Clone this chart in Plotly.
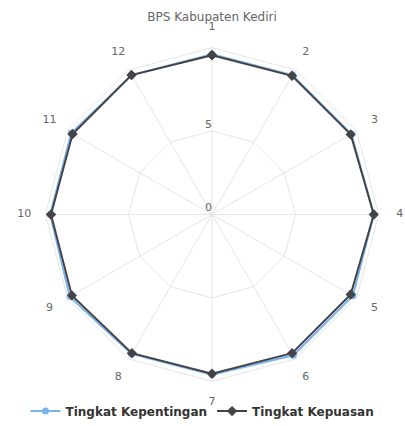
import plotly.graph_objects as go

categories = ["1", "2", "3", "4", "5", "6", "7", "8", "9", "10", "11", "12"]
kepentingan = [9.6, 9.65, 9.65, 9.7, 9.75, 9.75, 9.6, 9.65, 9.85, 9.7, 9.75, 9.65]
kepuasan = [9.55, 9.6, 9.6, 9.7, 9.6, 9.6, 9.55, 9.6, 9.7, 9.65, 9.65, 9.65]
radial_ticks = [0, 5]
radial_max = 10
label_radius = 11.25

W, H = 405, 426
cx, cy, R = 212, 216, 168
R2 = 190  # outer (label) polar radius in px
FONT = "DejaVu Sans, Open Sans, sans-serif"

def closed(v):
    return list(v) + [v[0]]

fig = go.Figure()
fig.add_trace(go.Scatterpolar(
    r=closed(kepentingan), theta=closed(categories), mode="lines+markers",
    name="Tingkat Kepentingan",
    line=dict(color="#7cb5ec", width=2),
    marker=dict(symbol="circle", size=7, color="#7cb5ec"),
))
fig.add_trace(go.Scatterpolar(
    r=closed(kepuasan), theta=closed(categories), mode="lines+markers",
    name="Tingkat Kepuasan",
    line=dict(color="#434348", width=2),
    marker=dict(symbol="diamond", size=8, color="#434348"),
))
# radial tick labels, upright, left of the axis
fig.add_trace(go.Scatterpolar(
    r=[max(t, 0.02) for t in radial_ticks], theta=[categories[0]] * len(radial_ticks), mode="text",
    text=[str(t) for t in radial_ticks], textposition="top left",
    textfont=dict(size=11, color="#666666", family=FONT),
    showlegend=False, hoverinfo="skip", cliponaxis=False,
))
# angular category labels placed farther out, on an overlaid bare polar
fig.add_trace(go.Scatterpolar(
    r=[label_radius] * len(categories), theta=categories, mode="text",
    text=categories, textfont=dict(size=11, color="#666666", family=FONT),
    showlegend=False, hoverinfo="skip", subplot="polar2",
))

bare = dict(visible=False, showgrid=False, showline=False, showticklabels=False, ticks="")

fig.update_layout(
    width=W, height=H,
    margin=dict(l=0, r=0, t=0, b=0),
    paper_bgcolor="white",
    font=dict(family=FONT, color="#666666"),
    title=dict(text="BPS Kabupaten Kediri", x=212 / W, xanchor="center", y=1 - 17 / H, yanchor="middle",
               font=dict(size=12, color="#666666", family=FONT)),
    polar=dict(
        bgcolor="white",
        gridshape="linear",
        domain=dict(x=[(cx - R) / W, (cx + R) / W],
                    y=[(H - cy - R) / H, (H - cy + R) / H]),
        radialaxis=dict(range=[0, radial_max], tickvals=radial_ticks, showline=False, ticks="",
                        angle=90, showticklabels=False, gridcolor="#e6e6e6"),
        angularaxis=dict(rotation=90, direction="clockwise", gridcolor="#e6e6e6",
                         showline=True, linecolor="#e6e6e6", linewidth=1, ticks="",
                         showticklabels=False),
    ),
    polar2=dict(
        bgcolor="rgba(0,0,0,0)",
        gridshape="linear",
        domain=dict(x=[(cx - R2) / W, (cx + R2) / W],
                    y=[(H - cy - R2) / H, (H - cy + R2) / H]),
        radialaxis=dict(range=[0, radial_max * R2 / R], **bare),
        angularaxis=dict(rotation=90, direction="clockwise", categoryarray=categories,
                         type="category", **bare),
    ),
    showlegend=True,
    legend=dict(orientation="h", x=0.5, xanchor="center", y=12 / H, yanchor="middle",
                bgcolor="rgba(0,0,0,0)",
                font=dict(size=12, color="#333333", weight="bold", family=FONT), itemwidth=30),
)

fig.write_html("out.html", config={"displayModeBar": False},
               post_script="document.body.style.margin='0';document.body.style.padding='0';")
